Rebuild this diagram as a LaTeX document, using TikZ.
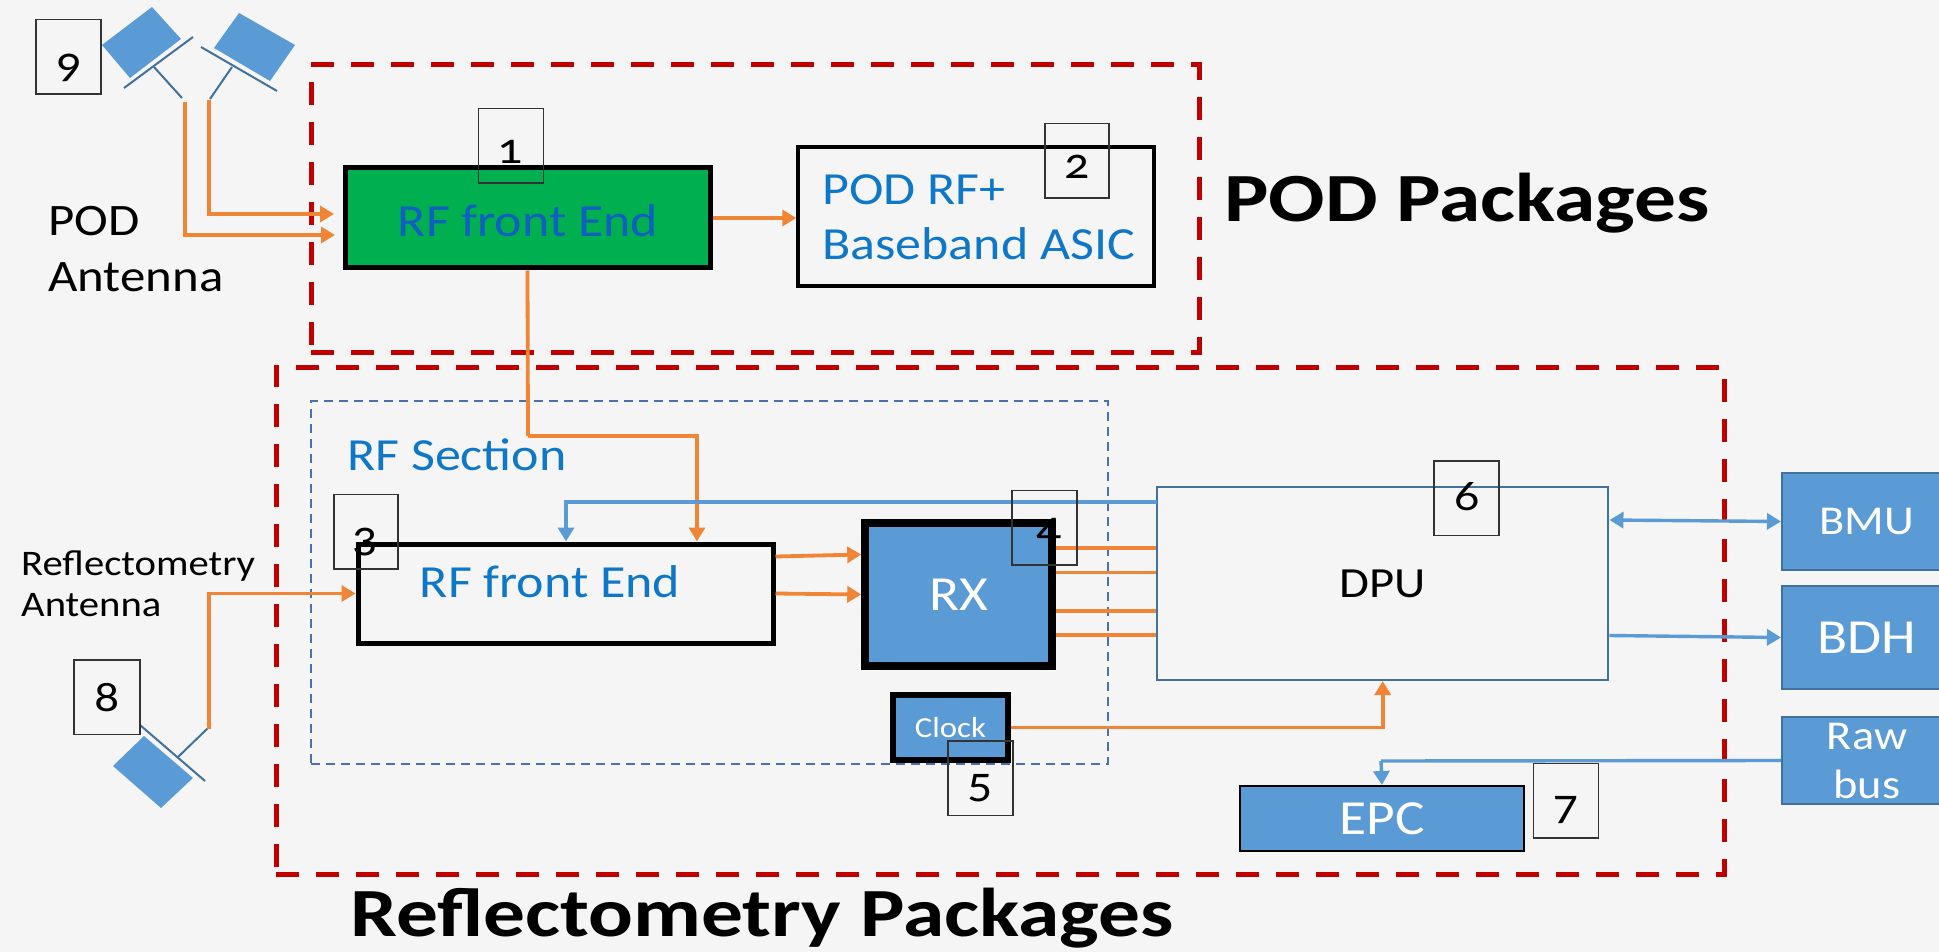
\documentclass[tikz,border=0pt]{standalone}
\usepackage{fontspec}
\setmainfont{Carlito}[Numbers=OldStyle, FakeStretch=1.13, BoldFeatures={FakeStretch=1.21}]
\usetikzlibrary{arrows.meta, positioning}
\newcommand{\Sz}[1]{\fontsize{#1}{#1}\selectfont}
\definecolor{bggrey}{HTML}{F5F5F5}
\definecolor{podred}{HTML}{C00000}
\definecolor{podgreen}{HTML}{00B050}
\definecolor{rxblue}{HTML}{5B9BD5}
\definecolor{edgeblue}{HTML}{41719C}
\definecolor{dashblue}{HTML}{4A70B0}
\definecolor{textblue}{HTML}{0F77C8}
\definecolor{deepblue}{HTML}{1060C0}
\definecolor{wireorange}{HTML}{F08536}

\begin{document}
\begin{tikzpicture}[x=1pt,y=-1pt,->,>={Triangle[length=14pt,width=16pt]},
    package/.style={draw=podred, line width=5pt, dash pattern=on 23pt off 17pt, inner sep=0pt},
    block/.style={draw=black, inner sep=0pt},
    blueblock/.style={block, fill=rxblue, text=white},
    busbox/.style={draw=edgeblue, line width=2pt, fill=rxblue, text=white, inner sep=0pt, minimum width=170pt},
    tagbox/.style={draw=black!80, line width=1.5pt, inner sep=0pt, minimum height=74.5pt},
    tagnum/.style={font=\Sz{44}, text=black, inner sep=0pt},
    orangewire/.style={wireorange, line width=3.8pt},
    bluewire/.style={rxblue, line width=3.4pt},
    feed/.style={-, edgeblue, line width=2pt},
    title/.style={font=\bfseries\Sz{69}, inner sep=0pt, anchor=base west},
    caption/.style={font=\Sz{45}, inner sep=0pt, anchor=base west},
    smallcaption/.style={font=\Sz{36}, inner sep=0pt, anchor=base west},
    bluetext/.style={font=\Sz{46}, text=textblue, inner sep=0pt, anchor=base}]
  \useasboundingbox (0,0) rectangle (1939,952);
  \fill[bggrey] (0,0) rectangle (1939,952);

  \node[package, minimum width=888pt, minimum height=287pt]   (PodPkg) at (755,208.5) {};
  \node[package, minimum width=1448pt, minimum height=507pt]  (RefPkg) at (1000,620.5) {};
  \node[draw=dashblue, line width=2pt, dash pattern=on 9pt off 6pt, inner sep=0pt,
        minimum width=797pt, minimum height=363pt]            (RFSec) at (709.5,582.5) {};

  \node[block, line width=5pt, fill=podgreen, minimum width=365pt, minimum height=100pt] (PodFront) at (527.5,218) {};
  \node[block, line width=3.5pt, minimum width=356pt, minimum height=139pt]               (PodAsic) at (976,216.5) {};
  \node[block, line width=5pt, minimum width=415pt, minimum height=99pt]                  (RefFront) at (565.5,593.5) {};
  \node[blueblock, line width=7.5pt, font=\Sz{49}, minimum width=187pt, minimum height=143pt] (RX) at (958.5,594.5) {RX};
  \node[blueblock, line width=6pt, font=\Sz{29}, minimum width=115pt, minimum height=65pt]  (Clock) at (950.5,727.5) {Clock};
  \node[draw=edgeblue, line width=2pt, font=\Sz{43}, inner sep=0pt, minimum width=451.5pt, minimum height=193pt] (DPU) at (1382.7,583.5) {DPU};
  \node[blueblock, line width=2pt, font=\Sz{49}, minimum width=284pt, minimum height=65pt] (EPC) at (1382,818.5) {EPC};
  \node[busbox, font=\Sz{41}, minimum height=97pt]  (BMU) at (1867,521.5) {BMU};
  \node[busbox, font=\Sz{49}, minimum height=103pt] (BDH) at (1867,637.5) {BDH};
  \node[busbox, font=\fontsize{41}{49}\selectfont, align=center, minimum height=87pt] (RawBus) at (1867,760.5) {Raw\\bus};

  \node[bluetext, text=deepblue] (PodFrontText) at (528,237) {RF front End};
  \node[bluetext] (RefFrontText) at (550,597) {RF front End};
  \node[bluetext] (SecText) at (457,470) {RF Section};
  \node[bluetext, anchor=base west] (AsicTextA) at (822,205) {POD RF+};
  \node[bluetext, anchor=base west] (AsicTextB) at (822,259) {Baseband ASIC};

  \node[title] (PodTitle) at (1224,222) {POD Packages};
  \node[title] (RefTitle) at (350,936) {Reflectometry Packages};
  \node[caption] (PodCapA) at (48,236) {POD};
  \node[caption] (PodCapB) at (48,291) {Antenna};
  \node[smallcaption] (RefCapA) at (21,575) {Reflectometry};
  \node[smallcaption] (RefCapB) at (21,616) {Antenna};

  \fill[rxblue] (102,45) -- (152,7) -- (181,39) -- (130,78) -- cycle;
  \fill[rxblue] (239,13) -- (295,45) -- (270,81) -- (214,48) -- cycle;
  \fill[rxblue] (144,736) -- (193,778) -- (161,808) -- (113,766) -- cycle;
  \draw[feed] (124,88) -- (193,37);
  \draw[feed] (201,47) -- (277,91);
  \draw[feed] (140,725) -- (205,781);
  \draw[feed] (154,67) -- (182,98);
  \draw[feed] (232,67) -- (210,99);
  \draw[feed] (178,757) -- (208,728);

  \coordinate (FeedA) at (185,102);
  \coordinate (FeedB) at (209,100);
  \coordinate (FeedC) at (209,729);
  \coordinate (InA)   at (335,235);
  \coordinate (InB)   at (334,214);
  \coordinate (JogA)  at (528,436);
  \coordinate (DownA) at (697,436);
  \coordinate (JogB)  at (1157,502);
  \coordinate (DownB) at (566,502);
  \coordinate (RawIn) at (1381,761);

  \draw[orangewire] (FeedA) |- (InA);
  \draw[orangewire] (FeedB) |- (InB);
  \draw[orangewire] (FeedC) |- (RefFront.west);
  \draw[orangewire] (PodFront.east) -- (PodFront.east -| PodAsic.west);
  \draw[orangewire, -] (PodFront.south) -- (JogA);
  \draw[orangewire] (JogA) -- (DownA) -- (DownA |- RefFront.north);
  \draw[bluewire] (JogB) -- (DownB) -- (DownB |- RefFront.north);
  \draw[orangewire] ([yshift=37pt]RefFront.east) -- ([yshift=40pt]RX.west);
  \draw[orangewire] (RefFront.east) -- (RX.west);
  \draw[orangewire, -] ([yshift=46.5pt]RX.east) -- ([yshift=46.5pt]RX.east -| DPU.west);
  \draw[orangewire, -] ([yshift=22pt]RX.east) -- ([yshift=22pt]RX.east -| DPU.west);
  \draw[orangewire, -] ([yshift=-16.5pt]RX.east) -- ([yshift=-16.5pt]RX.east -| DPU.west);
  \draw[orangewire, -] ([yshift=-40.5pt]RX.east) -- ([yshift=-40.5pt]RX.east -| DPU.west);
  \draw[orangewire] (Clock.east) -| (DPU.south);
  \draw[bluewire, <->] ([yshift=1.5pt]BMU.west -| DPU.east) -- (BMU.west);
  \draw[bluewire] ([yshift=2pt]BDH.west -| DPU.east) -- (BDH.west);
  \draw[bluewire, -] (RawBus.west) -- (RawIn);
  \draw[bluewire] (RawIn) -- (EPC.north);

  \node[tagbox, minimum width=65pt] (Tag1) at (511,146) {};
  \node[tagbox, minimum width=64pt] (Tag2) at (1077,161) {};
  \node[tagbox, minimum width=64pt] (Tag3) at (366,531.5) {};
  \node[tagbox, minimum width=65pt] (Tag4) at (1044.5,527.5) {};
  \node[tagbox, minimum width=65pt] (Tag5) at (980.5,778) {};
  \node[tagbox, minimum width=65pt] (Tag6) at (1466.5,498) {};
  \node[tagbox, minimum width=65pt] (Tag7) at (1566,800.5) {};
  \node[tagbox, minimum width=66pt] (Tag8) at (107,697) {};
  \node[tagbox, minimum width=65pt] (Tag9) at (68.5,57) {};

  \node[tagnum] (Num1) at (510.5,152) {1};
  \node[tagnum] (Num2) at (1077.5,167) {2};
  \node[tagnum] (Num3) at (365,542) {3};
  \node[tagnum] (Num4) at (1049,532) {4};
  \node[tagnum] (Num5) at (980,788) {5};
  \node[tagnum] (Num6) at (1467,497) {6};
  \node[tagnum] (Num7) at (1566,810) {7};
  \node[tagnum] (Num8) at (107,698) {8};
  \node[tagnum] (Num9) at (69,68) {9};
\end{tikzpicture}
\end{document}
